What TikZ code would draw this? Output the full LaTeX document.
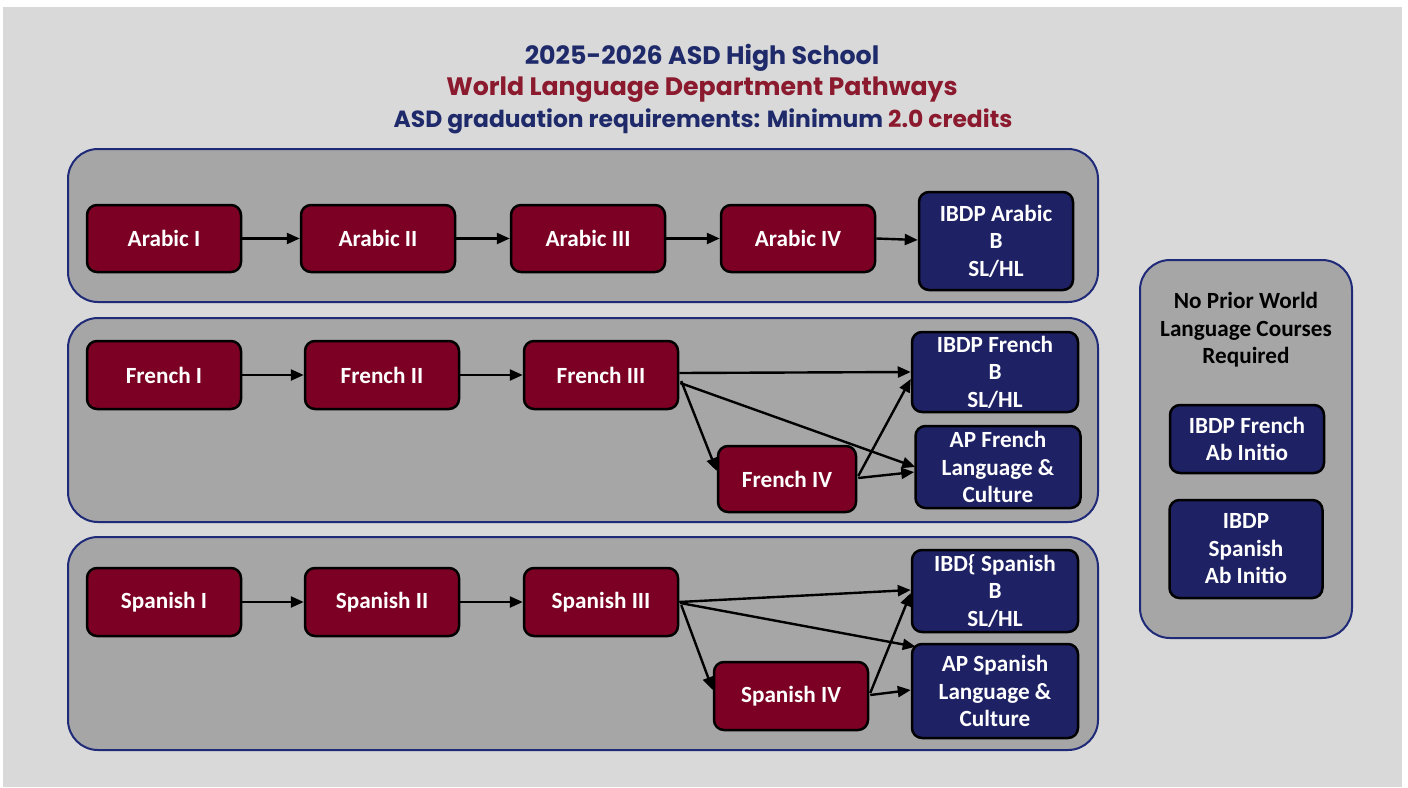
\documentclass[tikz,border=0pt]{standalone}
\usepackage{fontspec}
\setmainfont{Carlito}
\newfontfamily\titlefont{Poppins}
\usetikzlibrary{arrows.meta,calc}
\definecolor{bgc}{HTML}{D9D9D9}
\definecolor{contc}{HTML}{A6A6A6}
\definecolor{contline}{HTML}{1F2A78}
\definecolor{maroonc}{HTML}{7B0023}
\definecolor{navyc}{HTML}{1E2163}
\definecolor{titlenavy}{HTML}{1F2A6B}
\definecolor{titlered}{HTML}{8B1A2E}
\tikzset{
  container/.style={draw=contline, line width=2pt, fill=contc, rounded corners=30pt, inner sep=0pt},
  course/.style={draw=black, line width=2.5pt, fill=maroonc, rounded corners=10pt, text=white, align=center,
     font=\bfseries\fontsize{23.2}{27.5}\selectfont, inner sep=0pt},
  ibbox/.style={draw=black, line width=2.5pt, fill=navyc, rounded corners=10pt, text=white, align=center,
     font=\bfseries\fontsize{23.2}{27.5}\selectfont, inner sep=0pt},
  conn/.style={-{Triangle[length=13pt,width=11pt]}, line width=2.4pt, black},
  titleline/.style={inner sep=0pt}
}
\begin{document}
\begin{tikzpicture}[x=1pt,y=-1pt]
\useasboundingbox (0,0) rectangle (1408,787);
\fill[white] (0,0) rectangle (1408,787);
\fill[bgc] (3,7) rectangle (1402,787);
% titles
\node[titleline, text=titlenavy, font=\titlefont\bfseries\fontsize{25.3}{28}\selectfont] (t1) at (702,58) {2025-2026 ASD High School};
\node[titleline, text=titlered, font=\titlefont\bfseries\fontsize{25.2}{28}\selectfont] (t2) at (702,90) {World Language Department Pathways};
\node[titleline, text=titlenavy, font=\titlefont\bfseries\fontsize{23.4}{28}\selectfont] (t3) at (703,121) {ASD graduation requirements: Minimum \textcolor{titlered}{2.0 credits}};
% containers
\node[container, minimum width=1030pt, minimum height=153pt] (c1) at (583,225.5) {};
\node[container, minimum width=1030pt, minimum height=204pt] (c2) at (583,420) {};
\node[container, minimum width=1030pt, minimum height=213pt] (c3) at (583,643.5) {};
\node[container, minimum width=212pt, minimum height=378pt] (c4) at (1246,449) {};
% Arabic
\node[course, minimum width=154pt, minimum height=67pt] (a1) at (164,238.5) {Arabic I};
\node[course, minimum width=154pt, minimum height=67pt] (a2) at (378,238.5) {Arabic II};
\node[course, minimum width=154pt, minimum height=67pt] (a3) at (588,238.5) {Arabic III};
\node[course, minimum width=154pt, minimum height=67pt] (a4) at (798,238.5) {Arabic IV};
\node[ibbox, minimum width=154pt, minimum height=98pt] (ab) at (996,241) {IBDP Arabic\\B\\SL/HL};
% French
\node[course, minimum width=154pt, minimum height=68pt] (f1) at (164,375) {French I};
\node[course, minimum width=154pt, minimum height=68pt] (f2) at (382,375) {French II};
\node[course, minimum width=154pt, minimum height=68pt] (f3) at (601,375) {French III};
\node[course, minimum width=138pt, minimum height=66pt] (f4) at (787,479) {French IV};
\node[ibbox, minimum width=166pt, minimum height=80pt] (fb) at (995,372) {IBDP French\\B\\SL/HL};
\node[ibbox, minimum width=165pt, minimum height=82pt] (fap) at (998,467) {AP French\\Language \&\\Culture};
% Spanish
\node[course, minimum width=154pt, minimum height=68pt] (s1) at (164,602) {Spanish I};
\node[course, minimum width=154pt, minimum height=68pt] (s2) at (382,602) {Spanish II};
\node[course, minimum width=154pt, minimum height=68pt] (s3) at (601,602) {Spanish III};
\node[course, minimum width=154pt, minimum height=68pt] (s4) at (791,696) {Spanish IV};
\node[ibbox, minimum width=166pt, minimum height=82pt] (sb) at (995,591) {IBD\{ Spanish\\B\\SL/HL};
\node[ibbox, minimum width=166pt, minimum height=94pt] (sap) at (995,691) {AP Spanish\\Language \&\\Culture};
% right panel
\node[align=center, font=\bfseries\fontsize{23.2}{27.5}\selectfont, text=black] (np) at (1246,330) {No Prior World\\Language Courses\\Required};
\node[ibbox, minimum width=154pt, minimum height=68pt] (nf) at (1247,439) {IBDP French\\Ab Initio};
\node[ibbox, minimum width=153pt, minimum height=98pt] (ns) at (1246,549) {IBDP\\Spanish\\Ab Initio};
% arrows Arabic
\draw[conn] (a1) -- (a2);
\draw[conn] (a2) -- (a3);
\draw[conn] (a3) -- (a4);
\draw[conn] (a4.east) -- ($(ab.west)+(0,-1)$);
% arrows French
\draw[conn] (f1) -- (f2);
\draw[conn] (f2) -- (f3);
\draw[conn] ($(f3.east)+(0,-2)$) -- (fb.west);
\draw[conn] ($(f3.east)+(1,8)$) -- ($(fap.west)+(1,0)$);
\draw[conn] ($(f3.east)+(2,6)$) -- ($(f4.west)+(0,-8)$);
\draw[conn] ($(f4.east)+(1,-3)$) -- ($(fb.west)+(0,7)$);
\draw[conn] ($(f4.east)+(1,-1)$) -- ($(fap.west)+(0,5)$);
% arrows Spanish
\draw[conn] (s1) -- (s2);
\draw[conn] (s2) -- (s3);
\draw[conn] (s3.east) -- ($(sb.west)+(0,-1)$);
\draw[conn] ($(s3.east)+(1,1)$) -- ($(sap.north west)+(5,4)$);
\draw[conn] ($(s3.east)+(2,3)$) -- ($(s4.west)+(0,-6)$);
\draw[conn] ($(s4.east)+(1,-3)$) -- ($(sb.west)+(0,2)$);
\draw[conn] ($(s4.east)+(1,-1)$) -- ($(sap.west)+(0,-1)$);
\end{tikzpicture}
\end{document}
